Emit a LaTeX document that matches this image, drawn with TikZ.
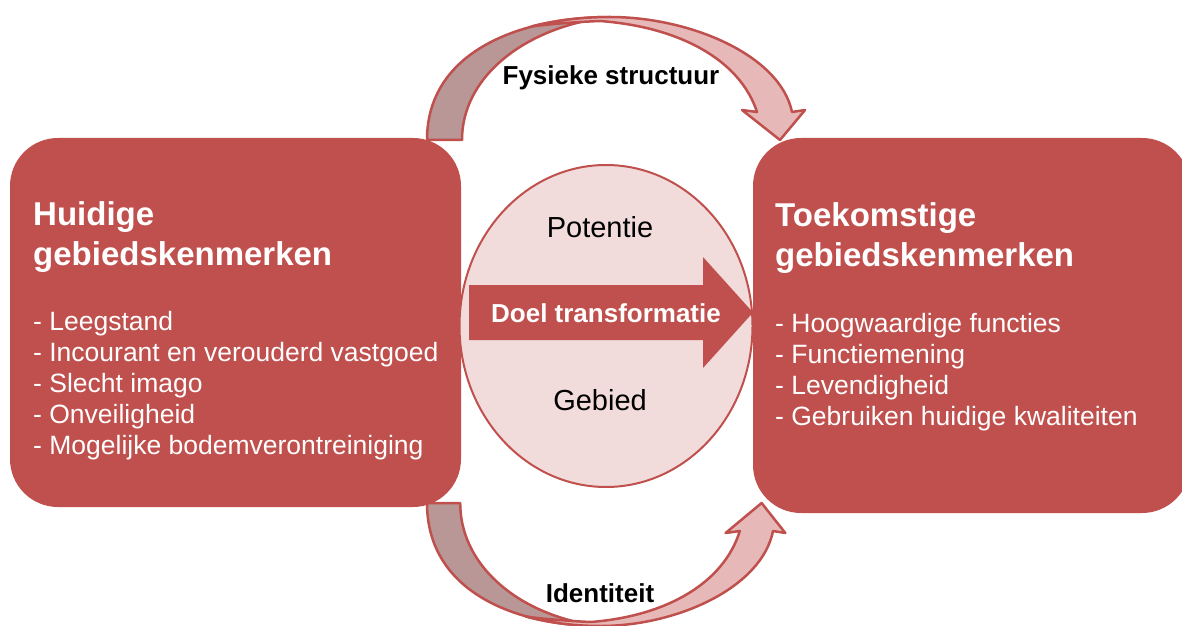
\documentclass[tikz,border=0pt]{standalone}
\usepackage{fontspec}
\setmainfont{Liberation Sans}
\usepackage{tikz}
\usetikzlibrary{shapes.geometric}
\definecolor{kernrood}{HTML}{C0504D}
\definecolor{lichtroze}{HTML}{F2DCDB}
\definecolor{bandlicht}{HTML}{E6B9B8}
\definecolor{banddonker}{HTML}{B99797}
\tikzset{
  kenmerk/.style={rectangle, rounded corners=48pt, fill=kernrood, inner sep=0pt},
  kop/.style={anchor=base west, align=left, inner sep=0pt, text=white, font=\bfseries\fontsize{33}{40}\selectfont},
  lijst/.style={anchor=base west, align=left, inner sep=0pt, text=white, font=\fontsize{26.5}{31}\selectfont},
  midtekst/.style={anchor=base, inner sep=0pt, font=\fontsize{29}{34}\selectfont},
  boogtekst/.style={anchor=base, inner sep=0pt, font=\bfseries\fontsize{26}{31}\selectfont},
  bandvoor/.style={fill=bandlicht, draw=kernrood, line width=2.5pt, line join=round},
  bandachter/.style={fill=banddonker, draw=kernrood, line width=2.5pt, line join=round}
}

\begin{document}
\begin{tikzpicture}[x=1pt, y=1pt]
  \path[use as bounding box, fill=white] (0,0) rectangle (1182,625);

  % boog boven: fysieke structuur
  \path[bandachter] (427,485) .. controls (427,574) and (521,608) .. (610,608)
    -- (590,605) .. controls (518,591) and (462,545) .. (462,485) -- cycle;
  \path[bandvoor] (531.2,598.5) .. controls (556.1,604.9) and (583.3,608) .. (610,608)
    .. controls (690,608) and (780,570) .. (792,513)
    -- (805,515) -- (780,485) -- (742,515) -- (757,513)
    .. controls (740,565) and (680,598) .. (600,604)
    .. controls (575,603) and (550,601) .. (531.2,598.5) -- cycle;

  % boog onder: identiteit
  \path[bandachter] (427,122) .. controls (427,33) and (516.1,-1) .. (600.5,-1)
    -- (581.5,2) .. controls (513.3,16) and (460.2,62) .. (460.2,122) -- cycle;
  \path[bandvoor] (525.8,8.5) .. controls (549.4,2.1) and (575.2,-1) .. (600.5,-1)
    .. controls (676.3,-1) and (761.6,37) .. (773,94)
    -- (785.3,92) -- (761.6,122) -- (725.6,92) -- (739.8,94)
    .. controls (723.7,42) and (666.8,9) .. (591,3)
    .. controls (567.3,4) and (543.6,6) .. (525.8,8.5) -- cycle;

  \node[kenmerk, minimum width=451pt, minimum height=369pt] (huidig) at (235.5,302.5) {};
  \node[kenmerk, minimum width=437pt, minimum height=375pt] (toekomst) at (971.5,299.5) {};

  \node[ellipse, fill=lichtroze, draw=kernrood, line width=2pt, inner sep=0pt,
        minimum width=293pt, minimum height=322pt] (kern) at (606,299) {};
  \fill[kernrood] (469,285) -- (703,285) -- (703,257) -- (753,312.5) -- (703,368) -- (703,340) -- (469,340) -- cycle;

  % base = basislijn van de laatste regel
  \node[kop] (huidigkop) at (33,360) {Huidige\\gebiedskenmerken};
  \node[lijst] (huidiglijst) at (33,171) {- Leegstand\\- Incourant en verouderd vastgoed\\- Slecht imago\\- Onveiligheid\\- Mogelijke bodemverontreiniging};
  \node[kop] (toekomstkop) at (775,359) {Toekomstige\\gebiedskenmerken};
  \node[lijst] (toekomstlijst) at (775,200) {- Hoogwaardige functies\\- Functiemening\\- Levendigheid\\- Gebruiken huidige kwaliteiten};

  \node[midtekst] (potentie) at (600,388) {Potentie};
  \node[midtekst] (gebied) at (600,215) {Gebied};
  \node[boogtekst, text=white] (doel) at (606,303) {Doel transformatie};

  \node[boogtekst] (fysiek) at (611,540) {Fysieke structuur};
  \node[boogtekst] (identiteit) at (600,23) {Identiteit};
\end{tikzpicture}
\end{document}
